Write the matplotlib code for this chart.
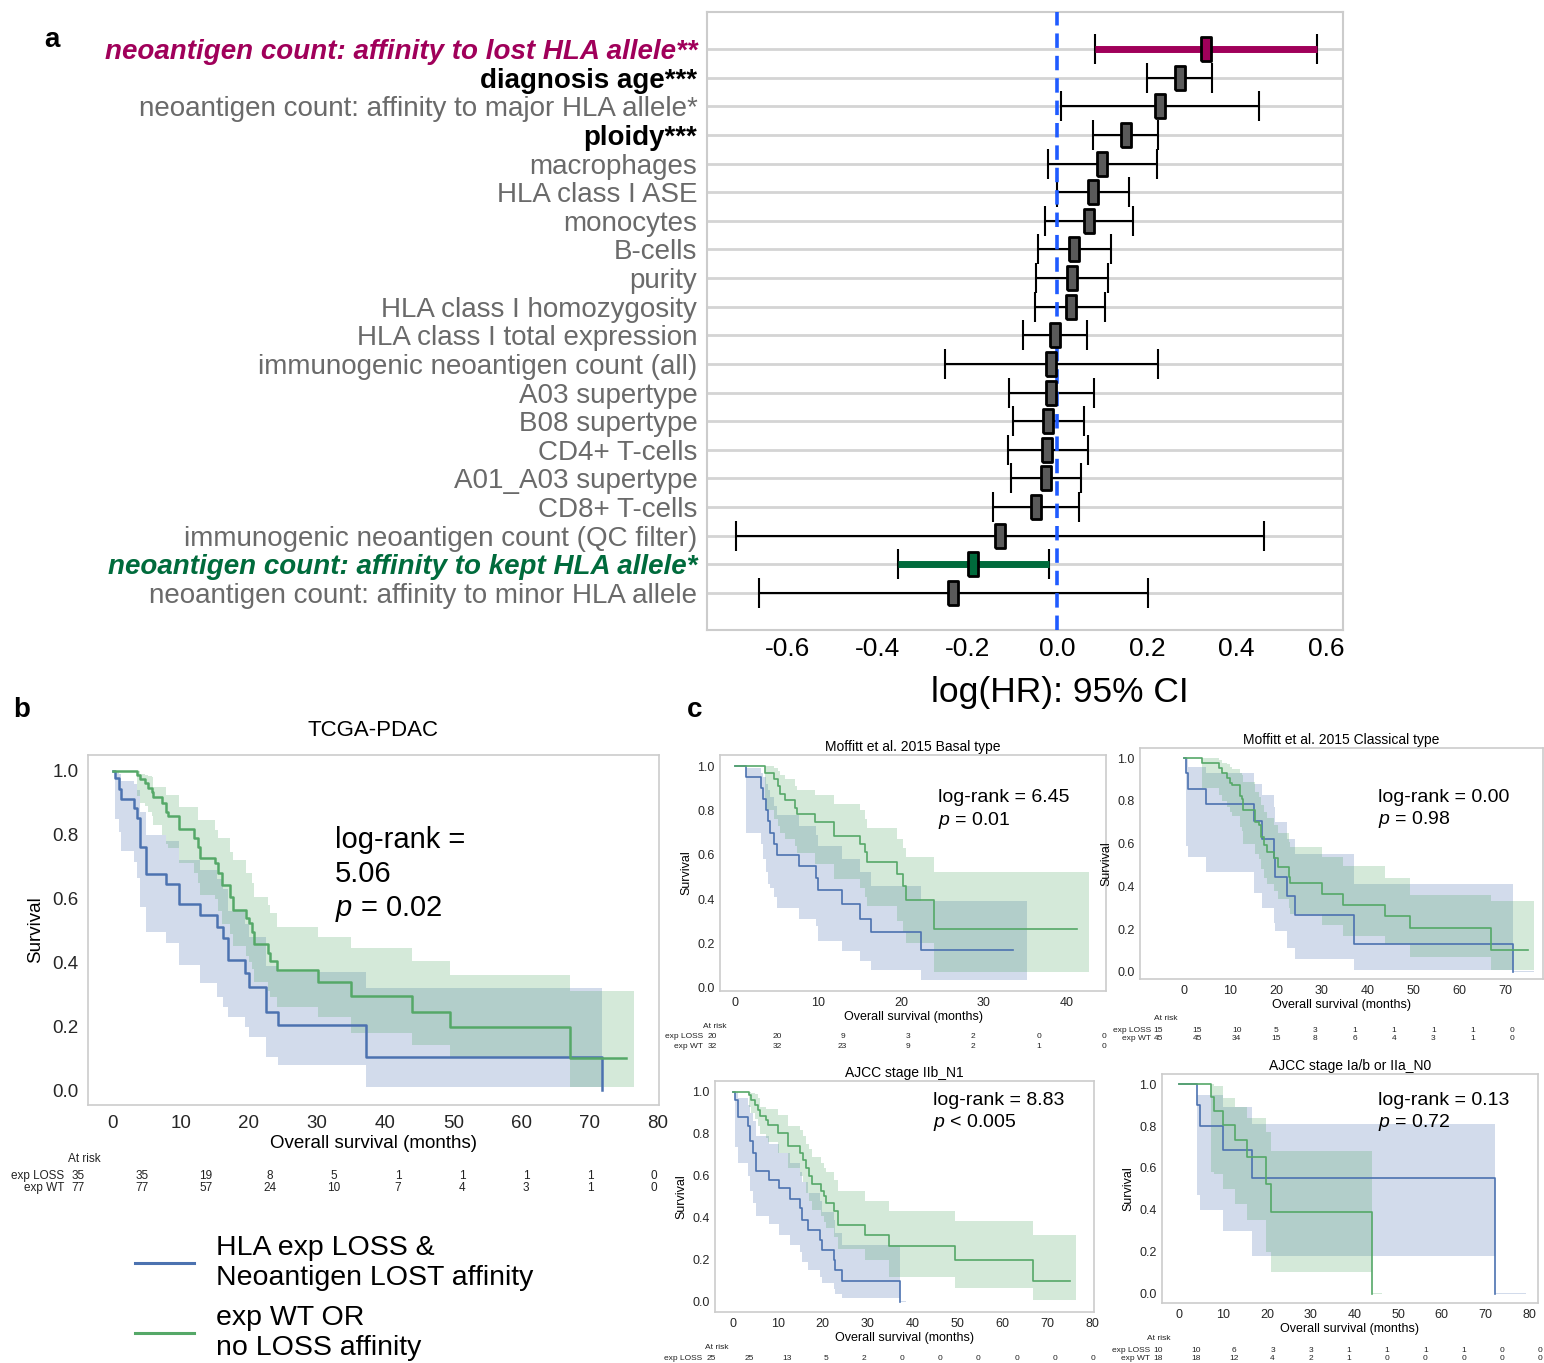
import matplotlib
matplotlib.use('Agg')
import matplotlib.pyplot as plt
from matplotlib.lines import Line2D

plt.rcParams['font.family'] = ['Liberation Sans', 'DejaVu Sans']
plt.rcParams['mathtext.fontset'] = 'custom'
plt.rcParams['mathtext.it'] = 'Liberation Sans:italic'
plt.rcParams['mathtext.rm'] = 'Liberation Sans'
plt.rcParams['axes.unicode_minus'] = False

# ---------------- panel a: forest plot data ----------------
covariates = ['neoantigen count: affinity to lost HLA allele**', 'diagnosis age***',
              'neoantigen count: affinity to major HLA allele*', 'ploidy***', 'macrophages',
              'HLA class I ASE', 'monocytes', 'B-cells', 'purity', 'HLA class I homozygosity',
              'HLA class I total expression', 'immunogenic neoantigen count (all)', 'A03 supertype',
              'B08 supertype', 'CD4+ T-cells', 'A01_A03 supertype', 'CD8+ T-cells',
              'immunogenic neoantigen count (QC filter)', 'neoantigen count: affinity to kept HLA allele*',
              'neoantigen count: affinity to minor HLA allele']
log_hr = [0.332, 0.273, 0.229, 0.153, 0.100, 0.080, 0.072, 0.038, 0.034, 0.030,
          -0.005, -0.013, -0.013, -0.020, -0.022, -0.025, -0.047, -0.127, -0.187, -0.232]
ci_low = [0.085, 0.200, 0.009, 0.080, -0.021, 0.000, -0.027, -0.043, -0.047, -0.049,
          -0.075, -0.249, -0.107, -0.099, -0.110, -0.103, -0.143, -0.715, -0.354, -0.664]
ci_high = [0.580, 0.346, 0.449, 0.225, 0.223, 0.161, 0.170, 0.119, 0.113, 0.107,
           0.066, 0.224, 0.082, 0.060, 0.068, 0.054, 0.049, 0.462, -0.018, 0.203]
row_kind = ['lost', 'bold', 'plain', 'bold', 'plain', 'plain', 'plain', 'plain', 'plain', 'plain',
            'plain', 'plain', 'plain', 'plain', 'plain', 'plain', 'plain', 'plain', 'kept', 'plain']

# ---------------- panel b: TCGA-PDAC ----------------
b_loss_t = [0, 0.4, 0.9, 1.3, 3.2, 3.6, 4.1, 4.9, 7.9, 9.8, 12.8, 15.3, 16.2, 16.9, 19.5, 20.0, 22.5, 24.3, 37.2, 71.8]
b_loss_s = [1.0, 0.977, 0.943, 0.911, 0.883, 0.852, 0.763, 0.676, 0.645, 0.582, 0.547, 0.512, 0.475, 0.406,
            0.366, 0.324, 0.244, 0.203, 0.103, 0.0]
b_loss_hi = [1.0, 1.0, 0.99, 0.97, 0.96, 0.94, 0.87, 0.80, 0.78, 0.72, 0.69, 0.66, 0.63, 0.56, 0.52, 0.48,
             0.39, 0.37, 0.32, 0.0]
b_loss_lo = [1.0, 0.85, 0.81, 0.75, 0.716, 0.664, 0.575, 0.494, 0.46, 0.392, 0.335, 0.293, 0.261, 0.23,
             0.196, 0.165, 0.105, 0.078, 0.01, 0.0]
b_loss_end = 74.0

b_wt_t = [0, 3.6, 4.1, 4.8, 5.2, 5.8, 6.0, 7.2, 7.8, 8.2, 9.7, 12.0, 12.5, 12.8, 15.0, 15.5, 16.1, 17.2, 17.7,
          19.6, 20.0, 20.4, 20.8, 22.8, 23.1, 24.2, 30.1, 35.0, 43.9, 49.5, 67.2, 75.3]
b_wt_s = [1.0, 0.987, 0.974, 0.961, 0.948, 0.935, 0.917, 0.898, 0.872, 0.86, 0.818, 0.789, 0.763, 0.726,
          0.71, 0.679, 0.643, 0.606, 0.564, 0.54, 0.523, 0.496, 0.458, 0.428, 0.405, 0.376, 0.34, 0.295,
          0.246, 0.198, 0.099, 0.099]
b_wt_hi = [1.0, 1.0, 0.99, 0.987, 0.985, 0.98, 0.95, 0.95, 0.925, 0.925, 0.888, 0.888, 0.846, 0.846, 0.815,
           0.789, 0.789, 0.747, 0.72, 0.679, 0.679, 0.65, 0.606, 0.58, 0.554, 0.512, 0.48, 0.444, 0.405,
           0.36, 0.311, 0.311]
b_wt_lo = [1.0, 0.92, 0.90, 0.89, 0.87, 0.86, 0.83, 0.80, 0.77, 0.76, 0.71, 0.68, 0.65, 0.61, 0.60, 0.56,
           0.52, 0.49, 0.45, 0.42, 0.40, 0.38, 0.34, 0.31, 0.29, 0.26, 0.23, 0.18, 0.14, 0.10, 0.01, 0.01]
b_wt_end = 76.6
b_risk_loss = [35, 35, 19, 8, 5, 1, 1, 1, 1, 0]
b_risk_wt = [77, 77, 57, 24, 10, 7, 4, 3, 1, 0]

# ---------------- panel c1: Moffitt basal ----------------
c1_loss_t = [0, 1.33, 3.13, 3.41, 3.73, 4.0, 4.2, 4.74, 5.02, 7.75, 9.76, 10.04, 12.93, 15.06, 16.35, 22.4, 33.5]
c1_loss_s = [1.0, 0.95, 0.9, 0.85, 0.8, 0.75, 0.7, 0.65, 0.6, 0.55, 0.495, 0.44, 0.376, 0.311, 0.25, 0.168, 0.168]
c1_loss_hi = [1.0, 0.99, 0.97, 0.95, 0.92, 0.89, 0.86, 0.82, 0.78, 0.73, 0.69, 0.64, 0.58, 0.52, 0.46, 0.39, 0.39]
c1_loss_lo = [1.0, 0.70, 0.65, 0.58, 0.52, 0.47, 0.45, 0.41, 0.36, 0.31, 0.28, 0.21, 0.165, 0.12, 0.08, 0.035, 0.035]
c1_loss_end = 35.2
c1_wt_t = [0, 3.61, 4.74, 5.14, 5.42, 6.02, 7.23, 7.43, 9.64, 11.97, 15.06, 15.66, 15.94, 19.56, 20.2, 20.6, 24.0, 41.2]
c1_wt_s = [1.0, 0.97, 0.94, 0.911, 0.876, 0.845, 0.809, 0.783, 0.748, 0.685, 0.65, 0.612, 0.567, 0.514, 0.457,
           0.397, 0.266, 0.266]
c1_wt_hi = [1.0, 1.0, 0.99, 0.98, 0.96, 0.94, 0.91, 0.89, 0.87, 0.83, 0.80, 0.76, 0.72, 0.67, 0.63, 0.59, 0.52, 0.52]
c1_wt_lo = [1.0, 0.80, 0.76, 0.73, 0.70, 0.67, 0.64, 0.61, 0.56, 0.49, 0.45, 0.41, 0.37, 0.30, 0.25, 0.20, 0.07, 0.07]
c1_wt_end = 42.6
c1_risk_loss = [20, 20, 9, 3, 2, 0, 0]
c1_risk_wt = [32, 32, 23, 9, 2, 1, 0]

# ---------------- panel c2: Moffitt classical ----------------
c2_loss_t = [0, 0.36, 0.8, 4.72, 15.3, 16.9, 19.5, 19.8, 22.4, 24.2, 37.1, 71.7]
c2_loss_s = [1.0, 0.931, 0.858, 0.785, 0.707, 0.62, 0.531, 0.445, 0.355, 0.266, 0.133, 0.0]
c2_loss_hi = [1.0, 1.0, 0.96, 0.93, 0.88, 0.83, 0.77, 0.70, 0.62, 0.55, 0.41, 0.005]
c2_loss_lo = [1.0, 0.59, 0.54, 0.47, 0.37, 0.30, 0.23, 0.19, 0.11, 0.06, 0.01, 0.0]
c2_loss_end = 76.3
c2_wt_t = [0, 3.85, 7.63, 8.2, 9.3, 10.0, 10.4, 12.2, 12.6, 12.9, 15.5, 16.3, 16.7, 17.4, 18.0, 19.6, 20.5,
           22.9, 23.1, 30.0, 34.7, 43.8, 49.3, 66.8, 75.0]
c2_wt_s = [1.0, 0.978, 0.956, 0.932, 0.908, 0.885, 0.874, 0.824, 0.811, 0.757, 0.702, 0.687, 0.632, 0.593,
           0.562, 0.531, 0.492, 0.445, 0.417, 0.364, 0.312, 0.261, 0.206, 0.101, 0.101]
c2_wt_hi = [1.0, 1.0, 0.99, 0.98, 0.975, 0.96, 0.95, 0.93, 0.92, 0.89, 0.84, 0.82, 0.78, 0.75, 0.72, 0.69,
            0.65, 0.61, 0.585, 0.538, 0.494, 0.44, 0.36, 0.33, 0.33]
c2_wt_lo = [1.0, 0.86, 0.83, 0.80, 0.77, 0.75, 0.73, 0.68, 0.66, 0.60, 0.55, 0.53, 0.48, 0.44, 0.41, 0.38,
            0.34, 0.30, 0.27, 0.22, 0.17, 0.13, 0.07, 0.01, 0.01]
c2_wt_end = 76.3
c2_risk_loss = [15, 15, 10, 5, 3, 1, 1, 1, 1, 0]
c2_risk_wt = [45, 45, 34, 15, 8, 6, 4, 3, 1, 0]

# ---------------- panel c3: AJCC IIb_N1 ----------------
c3_loss_t = [0, 0.5, 1.1, 3.35, 3.87, 4.46, 5.05, 8.0, 10.25, 12.6, 15.0, 15.4, 16.7, 19.3, 19.9, 22.4, 22.7, 24.3, 37.2]
c3_loss_s = [1.0, 0.96, 0.88, 0.836, 0.765, 0.71, 0.625, 0.582, 0.543, 0.49, 0.448, 0.392, 0.344, 0.297,
             0.249, 0.202, 0.154, 0.102, 0.0]
c3_loss_hi = [1.0, 1.0, 0.97, 0.94, 0.90, 0.86, 0.79, 0.75, 0.71, 0.66, 0.62, 0.57, 0.52, 0.48, 0.43, 0.39,
              0.33, 0.27, 0.005]
c3_loss_lo = [1.0, 0.74, 0.66, 0.60, 0.53, 0.47, 0.41, 0.37, 0.32, 0.27, 0.24, 0.19, 0.15, 0.12, 0.09, 0.06,
              0.04, 0.02, 0.0]
c3_loss_end = 38.6
c3_wt_t = [0, 3.6, 4.0, 4.84, 5.58, 5.95, 7.3, 7.8, 10.0, 12.3, 14.9, 15.6, 16.2, 16.9, 17.5, 19.7, 20.2, 20.7,
           22.6, 23.4, 29.3, 34.8, 49.4, 66.8, 75.0]
c3_wt_s = [1.0, 0.986, 0.962, 0.939, 0.915, 0.884, 0.868, 0.844, 0.805, 0.741, 0.709, 0.678, 0.638, 0.598,
           0.562, 0.527, 0.503, 0.471, 0.432, 0.368, 0.317, 0.265, 0.201, 0.101, 0.101]
c3_wt_hi = [1.0, 1.0, 0.995, 0.99, 0.97, 0.93, 0.92, 0.92, 0.89, 0.84, 0.82, 0.79, 0.75, 0.73, 0.69, 0.66,
            0.64, 0.62, 0.58, 0.53, 0.48, 0.435, 0.384, 0.317, 0.317]
c3_wt_lo = [1.0, 0.93, 0.90, 0.87, 0.84, 0.80, 0.78, 0.76, 0.71, 0.64, 0.60, 0.57, 0.52, 0.48, 0.44, 0.41,
            0.38, 0.35, 0.31, 0.25, 0.20, 0.12, 0.065, 0.01, 0.01]
c3_wt_end = 76.5
c3_risk_loss = [25, 25, 13, 5, 2, 0, 0, 0, 0, 0, 0]

# ---------------- panel c4: AJCC Ia/b or IIa_N0 ----------------
c4_loss_t = [0, 3.97, 4.73, 9.92, 16.56, 72.1]
c4_loss_s = [1.0, 0.9, 0.8, 0.686, 0.551, 0.0]
c4_loss_hi = [1.0, 0.95, 0.95, 0.89, 0.81, 0.005]
c4_loss_lo = [1.0, 0.47, 0.40, 0.30, 0.18, 0.0]
c4_loss_end = 79.2
c4_wt_t = [0, 7.25, 8.0, 9.92, 12.6, 15.5, 19.7, 21.0, 44.0]
c4_wt_s = [1.0, 0.94, 0.872, 0.805, 0.733, 0.651, 0.522, 0.392, 0.0]
c4_wt_hi = [1.0, 1.0, 0.99, 0.935, 0.89, 0.84, 0.77, 0.68, 0.005]
c4_wt_lo = [1.0, 0.58, 0.57, 0.50, 0.43, 0.35, 0.20, 0.105, 0.0]
c4_wt_end = 46.4
c4_risk_loss = [10, 10, 6, 3, 3, 1, 1, 1, 1, 0, 0]
c4_risk_wt = [18, 18, 12, 4, 2, 1, 0, 0, 0, 0, 0]

BLUE = '#4C72B0'
GREEN = '#55A868'
LOST_C = '#A0005A'
KEPT_C = '#006B3C'

W, H = 1544, 1363
fig = plt.figure(figsize=(W / 100, H / 100), dpi=100)


def px_axes(l, t, r, b):
    # axes placed by pixel box (left, top, right, bottom)
    return fig.add_axes([l / W, 1 - b / H, (r - l) / W, (b - t) / H])


# ================= a =================
ax = px_axes(707, 12, 1343, 630)
rect = [(-0.45, -1), (0.45, -1), (0.45, 1), (-0.45, 1), (-0.45, -1)]
for i in range(len(covariates)):
    ax.errorbar(log_hr[i], i, xerr=[[log_hr[i] - ci_low[i]], [ci_high[i] - log_hr[i]]], fmt='none',
                ecolor='black', elinewidth=1.5, capsize=11, capthick=1.5, zorder=2)
    face = '#5a5a5a'
    if row_kind[i] == 'lost':
        face = LOST_C
        ax.hlines(i, ci_low[i], ci_high[i], color=LOST_C, lw=5, zorder=2.5)
    elif row_kind[i] == 'kept':
        face = KEPT_C
        ax.hlines(i, ci_low[i], ci_high[i], color=KEPT_C, lw=5, zorder=2.5)
    ax.plot(log_hr[i], i, marker=rect, ms=17, mfc=face, mec='black', mew=2, zorder=5)
ax.axvline(0, color='#1f5bff', lw=2.6, ls=(0, (4, 2.2)), zorder=3)
ax.set_xlim(-0.78, 0.637)
ax.set_ylim(20.3, -1.3)
ax.set_yticks(range(len(covariates)))
ax.set_yticklabels(covariates)
ax.set_xticks([-0.6, -0.4, -0.2, 0.0, 0.2, 0.4, 0.6])
ax.set_xticklabels(['%.1f' % v for v in [-0.6, -0.4, -0.2, 0.0, 0.2, 0.4, 0.6]])
ax.yaxis.grid(True, color='#d4d4d4', lw=2)
ax.set_axisbelow(True)
ax.tick_params(axis='y', length=0, pad=7, labelsize=20)
ax.tick_params(axis='x', length=0, pad=5, labelsize=19)
for lab, kind in zip(ax.get_yticklabels(), row_kind):
    if kind == 'lost':
        lab.set_color(LOST_C); lab.set_fontweight('bold'); lab.set_fontstyle('italic')
    elif kind == 'kept':
        lab.set_color(KEPT_C); lab.set_fontweight('bold'); lab.set_fontstyle('italic')
    elif kind == 'bold':
        lab.set_color('black'); lab.set_fontweight('bold')
    else:
        lab.set_color('#6a6a6a')
for sp in ax.spines.values():
    sp.set_color('#cccccc'); sp.set_linewidth(1.5)
ax.set_xlabel('log(HR): 95% CI', fontsize=25.5)
ax.xaxis.set_label_coords(0.555, -0.074)


# ================= KM helpers =================
def km(ax, t, s, lo, hi, end, color, lw):
    ax.fill_between(t + [end], lo + [lo[-1]], hi + [hi[-1]], step='post', color=color, alpha=0.25, lw=0)
    ax.step(t, s, where='post', color=color, lw=lw)


def style_km(ax, xticks, xlim, ylim, fs, pad):
    ax.set_xlim(*xlim)
    ax.set_ylim(*ylim)
    ax.set_xticks(xticks)
    ax.set_yticks([0.0, 0.2, 0.4, 0.6, 0.8, 1.0])
    ax.set_yticklabels(['0.0', '0.2', '0.4', '0.6', '0.8', '1.0'])
    ax.tick_params(length=0, labelsize=fs, colors='#262626', pad=pad)
    for sp in ax.spines.values():
        sp.set_color('#cccccc'); sp.set_linewidth(1.2)


def risk_table(x_first, x_last, y_head, y_rows, counts, labels, fs, head_dx, label_dx):
    n = len(counts[0])
    tab = px_axes(x_first, y_head - 5, x_last, y_rows[-1] + 5)
    tab.set_xlim(0, n - 1)
    tab.set_ylim(y_rows[-1] + 5, y_head - 5)
    tab.axis('off')
    step = (x_last - x_first) / (n - 1)
    tab.text(-head_dx / step, y_head, 'At risk', fontsize=fs, ha='left', va='center', color='#222222')
    for row, lab, y in zip(counts, labels, y_rows):
        tab.text(-label_dx / step, y, lab, fontsize=fs, ha='right', va='center', color='#222222')
        for i, c in enumerate(row):
            tab.text(i, y, str(c), fontsize=fs, ha='center', va='center', color='#222222')


# ================= b =================
axb = px_axes(88, 755, 659, 1105)
km(axb, b_loss_t, b_loss_s, b_loss_lo, b_loss_hi, b_loss_end, BLUE, 1.8)
km(axb, b_wt_t, b_wt_s, b_wt_lo, b_wt_hi, b_wt_end, GREEN, 1.8)
style_km(axb, range(0, 90, 10), (-3.6, 80.2), (-0.047, 1.05), 13.5, 7)
axb.set_title('TCGA-PDAC', fontsize=16, pad=14)
axb.set_xlabel('Overall survival (months)', fontsize=13.5, labelpad=2)
axb.set_ylabel('Survival', fontsize=13.5, labelpad=6)
axb.text(0.433, 0.797, 'log-rank =\n5.06\n$p$ = 0.02', transform=axb.transAxes, fontsize=21,
         ha='left', va='top', linespacing=1.28)
risk_table(78, 654, 1159, [1176, 1188], [b_risk_loss, b_risk_wt], ['exp LOSS', 'exp WT'], 8.5, 10, 14)

# ================= c1 =================
ax1 = px_axes(720, 755, 1106, 991)
km(ax1, c1_loss_t, c1_loss_s, c1_loss_lo, c1_loss_hi, c1_loss_end, BLUE, 1.2)
km(ax1, c1_wt_t, c1_wt_s, c1_wt_lo, c1_wt_hi, c1_wt_end, GREEN, 1.2)
style_km(ax1, range(0, 50, 10), (-1.8, 44.7), (-0.015, 1.05), 9, 4)
ax1.set_title('Moffitt et al. 2015 Basal type', fontsize=10, pad=3)
ax1.set_xlabel('Overall survival (months)', fontsize=9, labelpad=2)
ax1.set_ylabel('Survival', fontsize=9, labelpad=3)
ax1.text(0.565, 0.855, 'log-rank = 6.45\n$p$ = 0.01', transform=ax1.transAxes, fontsize=14,
         ha='left', va='top', linespacing=1.22)
risk_table(712, 1104, 1026, [1037, 1046], [c1_risk_loss, c1_risk_wt], ['exp LOSS', 'exp WT'], 6, 9, 9)

# ================= c2 =================
ax2 = px_axes(1140, 748, 1543, 979)
km(ax2, c2_loss_t, c2_loss_s, c2_loss_lo, c2_loss_hi, c2_loss_end, BLUE, 1.2)
km(ax2, c2_wt_t, c2_wt_s, c2_wt_lo, c2_wt_hi, c2_wt_end, GREEN, 1.2)
style_km(ax2, range(0, 80, 10), (-9.6, 78.2), (-0.033, 1.048), 9, 4)
ax2.set_title('Moffitt et al. 2015 Classical type', fontsize=10, pad=3)
ax2.set_xlabel('Overall survival (months)', fontsize=9, labelpad=2)
ax2.set_ylabel('Survival', fontsize=9, labelpad=3)
ax2.text(0.59, 0.822, 'log-rank = 0.00\n$p$ = 0.98', transform=ax2.transAxes, fontsize=14,
         ha='left', va='top', linespacing=1.22)
risk_table(1158, 1512, 1019, [1030, 1039], [c2_risk_loss, c2_risk_wt], ['exp LOSS', 'exp WT'], 6, 4, 7)

# ================= c3 =================
ax3 = px_axes(715, 1081, 1094, 1312)
km(ax3, c3_loss_t, c3_loss_s, c3_loss_lo, c3_loss_hi, c3_loss_end, BLUE, 1.2)
km(ax3, c3_wt_t, c3_wt_s, c3_wt_lo, c3_wt_hi, c3_wt_end, GREEN, 1.2)
style_km(ax3, range(0, 90, 10), (-4.0, 80.4), (-0.048, 1.052), 9, 4)
ax3.set_title('AJCC stage IIb_N1', fontsize=10, pad=3)
ax3.set_xlabel('Overall survival (months)', fontsize=9, labelpad=2)
ax3.set_ylabel('Survival', fontsize=9, labelpad=3)
ax3.text(0.575, 0.952, 'log-rank = 8.83\n$p$ < 0.005', transform=ax3.transAxes, fontsize=14,
         ha='left', va='top', linespacing=1.22)
risk_table(711, 1093, 1347, [1358], [c3_risk_loss], ['exp LOSS'], 6, 6, 9)

# ================= c4 =================
ax4 = px_axes(1162, 1074, 1538, 1303)
km(ax4, c4_loss_t, c4_loss_s, c4_loss_lo, c4_loss_hi, c4_loss_end, BLUE, 1.2)
km(ax4, c4_wt_t, c4_wt_s, c4_wt_lo, c4_wt_hi, c4_wt_end, GREEN, 1.2)
style_km(ax4, range(0, 90, 10), (-4.0, 82.0), (-0.044, 1.048), 9, 4)
ax4.set_title('AJCC stage Ia/b or IIa_N0', fontsize=10, pad=3)
ax4.set_xlabel('Overall survival (months)', fontsize=9, labelpad=2)
ax4.set_ylabel('Survival', fontsize=9, labelpad=3)
ax4.text(0.574, 0.921, 'log-rank = 0.13\n$p$ = 0.72', transform=ax4.transAxes, fontsize=14,
         ha='left', va='top', linespacing=1.22)
risk_table(1158, 1540, 1338, [1350, 1359], [c4_risk_loss, c4_risk_wt], ['exp LOSS', 'exp WT'], 6, 11, 8)

# ================= legend and panel letters =================
handles = [Line2D([], [], color=BLUE, lw=2.2), Line2D([], [], color=GREEN, lw=2.2)]
fig.legend(handles, ['HLA exp LOSS &\nNeoantigen LOST affinity', 'exp WT OR\nno LOSS affinity'],
           loc='upper left', bbox_to_anchor=(109 / W, 1 - 1209 / H), frameon=False, fontsize=20.5,
           handlelength=2.1, handletextpad=0.75, labelspacing=0.5)

fig.text(52 / W, 1 - 40 / H, 'a', fontsize=20, fontweight='bold', ha='center', va='center')
fig.text(22 / W, 1 - 710 / H, 'b', fontsize=20, fontweight='bold', ha='center', va='center')
fig.text(695 / W, 1 - 710 / H, 'c', fontsize=20, fontweight='bold', ha='center', va='center')

fig.savefig('out.png', dpi=100)
